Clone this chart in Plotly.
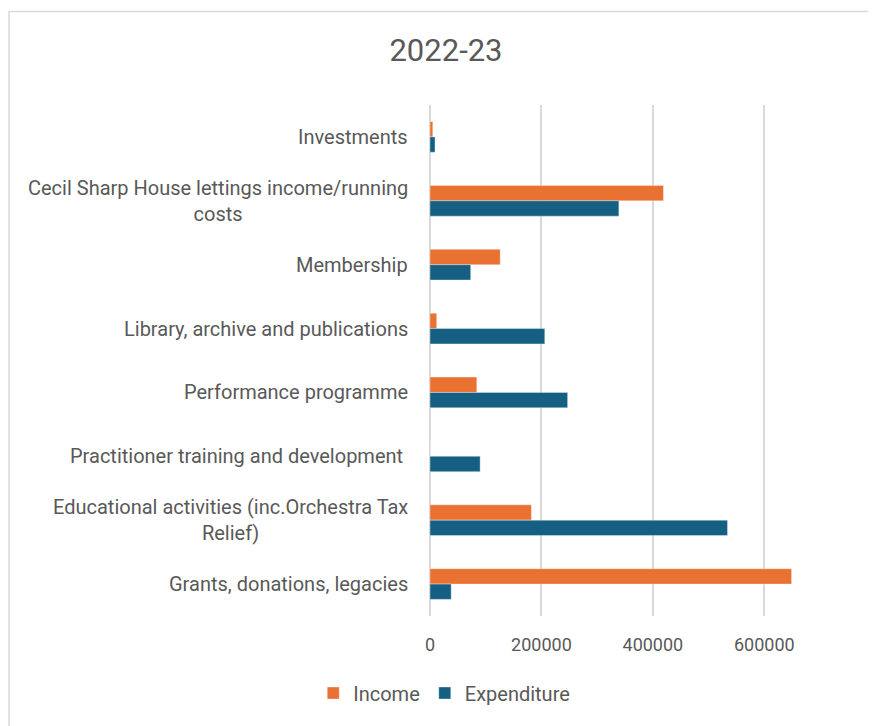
import plotly.graph_objects as go

# Categories, top to bottom as shown
categories = [
    "Investments",
    "Cecil Sharp House lettings income/running costs",
    "Membership",
    "Library, archive and publications",
    "Performance programme",
    "Practitioner training and development ",
    "Educational activities (inc.Orchestra Tax Relief)",
    "Grants, donations, legacies",
]
tick_labels = [
    "Investments",
    "Cecil Sharp House lettings income/running<br>costs",
    "Membership",
    "Library, archive and publications",
    "Performance programme",
    "Practitioner training and development ",
    "Educational activities (inc.Orchestra Tax<br>Relief)",
    "Grants, donations, legacies",
]
income = [5000, 419000, 126000, 12000, 84000, 0, 182000, 649000]
expenditure = [9000, 339000, 73000, 206000, 247000, 90000, 534000, 38000]
x_ticks = [0, 200000, 400000, 600000]
title_text = "2022-23"

ORANGE = "#E97132"
BLUE = "#156082"
TEXT = "#595959"
FONT = "Roboto"

ML, MR, MT, MB = 422, 64, 97, 118
W, H = 876, 726
PW = W - ML - MR
PH = H - MT - MB

fig = go.Figure()
fig.add_trace(go.Bar(
    y=categories, x=income, name="Income", orientation="h",
    marker=dict(color=ORANGE, line=dict(color="rgba(255,255,255,0.35)", width=1)),
    legendrank=1,
))
fig.add_trace(go.Bar(
    y=categories, x=expenditure, name="Expenditure", orientation="h",
    marker=dict(color=BLUE, line=dict(color="rgba(255,255,255,0.35)", width=1)),
    legendrank=2,
))

annotations = []
for cat, lab in zip(categories, tick_labels):
    annotations.append(dict(
        x=0, xref="paper", y=cat, yref="y", text=lab, showarrow=False,
        xanchor="right", yanchor="middle", align="center", xshift=-20,
        font=dict(family=FONT, size=20, color=TEXT),
    ))

fig.update_layout(
    width=W, height=H,
    margin=dict(l=ML, r=MR, t=MT, b=MB),
    paper_bgcolor="white", plot_bgcolor="white",
    barmode="group", bargap=0.52, bargroupgap=0,
    title=dict(text=title_text, x=0.5, xref="container", xanchor="center",
               y=1 - 42 / H, yref="container", yanchor="middle",
               font=dict(family=FONT, size=31, color=TEXT)),
    font=dict(family=FONT, size=18, color=TEXT),
    xaxis=dict(range=[0, 700000], tickvals=x_ticks, tickformat="d",
               showgrid=True, gridcolor="#D9D9D9", gridwidth=1.5,
               zeroline=True, zerolinecolor="#D9D9D9", zerolinewidth=1.5,
               showline=False, ticks="", ticklabelstandoff=16,
               tickfont=dict(family=FONT, size=18, color=TEXT), fixedrange=True),
    yaxis=dict(categoryorder="array", categoryarray=categories, autorange="reversed",
               showticklabels=False, showgrid=False, zeroline=False, ticks="",
               fixedrange=True),
    legend=dict(orientation="h", x=0.498, xref="container", xanchor="center",
                y=1 - 685 / H, yref="container", yanchor="middle",
                font=dict(family=FONT, size=20, color=TEXT),
                itemwidth=30, tracegroupgap=0),
    annotations=annotations,
    shapes=[dict(type="rect", xref="paper", yref="paper",
                 x0=(1 - ML) / PW, x1=(W + 30 - ML) / PW,
                 y0=(PH - (H + 30 - MT)) / PH, y1=(PH - (3.5 - MT)) / PH,
                 line=dict(color="#D9D9D9", width=1.5), fillcolor="rgba(0,0,0,0)",
                 layer="below")],
    showlegend=True,
)

fig.write_html("out.html")
